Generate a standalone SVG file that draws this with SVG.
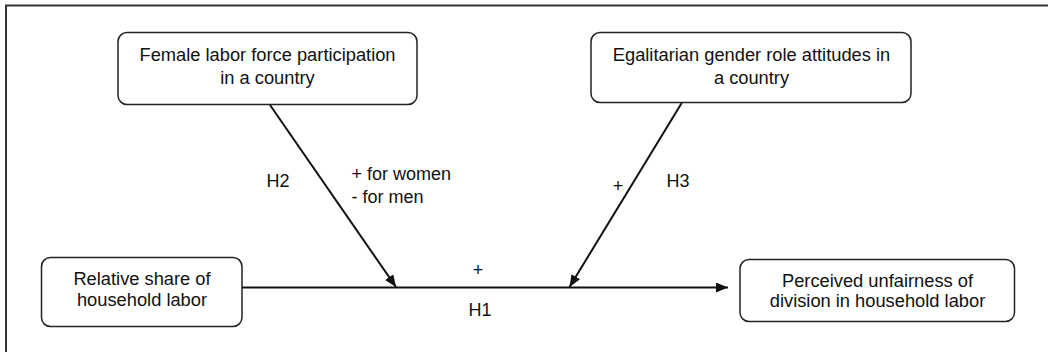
<svg xmlns="http://www.w3.org/2000/svg" width="1048" height="352" viewBox="0 0 1048 352">
<style>
.box{fill:#fff;stroke:#222;stroke-width:1.5}
.t{font-family:"Liberation Sans",Arial,sans-serif;font-size:18.3px;fill:#111;text-anchor:middle}
.l{font-family:"Liberation Sans",Arial,sans-serif;font-size:18px;fill:#111}
.c{stroke:#111;stroke-width:2;fill:none}
</style>
<defs>
<marker id="ah" viewBox="0 0 12 10" refX="12" refY="5" markerWidth="12" markerHeight="10" markerUnits="userSpaceOnUse" orient="auto">
<path d="M0,0 L12,5 L0,10 Z" fill="#111"/>
</marker>
</defs>
<rect x="0" y="0" width="1048" height="352" fill="#fff"/>
<path d="M6,352 V5.5 H1048" fill="none" stroke="#333" stroke-width="2"/>
<g id="connectors">
<line class="c" x1="242" y1="287.5" x2="728" y2="287.5" marker-end="url(#ah)"/>
<line class="c" x1="270" y1="105" x2="396" y2="287" marker-end="url(#ah)"/>
<line class="c" x1="681.7" y1="103" x2="569.5" y2="287" marker-end="url(#ah)"/>
<text class="l" x="266.5" y="187">H2</text>
<text class="l" x="351.5" y="179.5">+ for women</text>
<text class="l" x="351.5" y="202.5">- for men</text>
<text class="l" x="666.5" y="187">H3</text>
<text class="l" x="618" y="192" text-anchor="middle" font-size="17">+</text>
<text class="l" x="478" y="276" text-anchor="middle" font-size="21">+</text>
<text class="l" x="480" y="316" text-anchor="middle">H1</text>
</g>
<g id="n1">
<rect class="box" x="118" y="32.5" width="299" height="72" rx="9"/>
<text class="t" x="267.5" y="61">Female labor force participation</text>
<text class="t" x="267.5" y="84">in a country</text>
</g>
<g id="n2">
<rect class="box" x="591" y="32.5" width="320" height="70" rx="9"/>
<text class="t" x="751.5" y="60.5">Egalitarian gender role attitudes in</text>
<text class="t" x="751.5" y="83.5">a country</text>
</g>
<g id="n3">
<rect class="box" x="41.5" y="257.5" width="200.5" height="69" rx="9"/>
<text class="t" x="142" y="284.5">Relative share of</text>
<text class="t" x="142" y="305.5">household labor</text>
</g>
<g id="n4">
<rect class="box" x="740" y="259.5" width="274.5" height="62" rx="9"/>
<text class="t" x="877.5" y="286.5">Perceived unfairness of</text>
<text class="t" x="877.5" y="307">division in household labor</text>
</g>
</svg>
